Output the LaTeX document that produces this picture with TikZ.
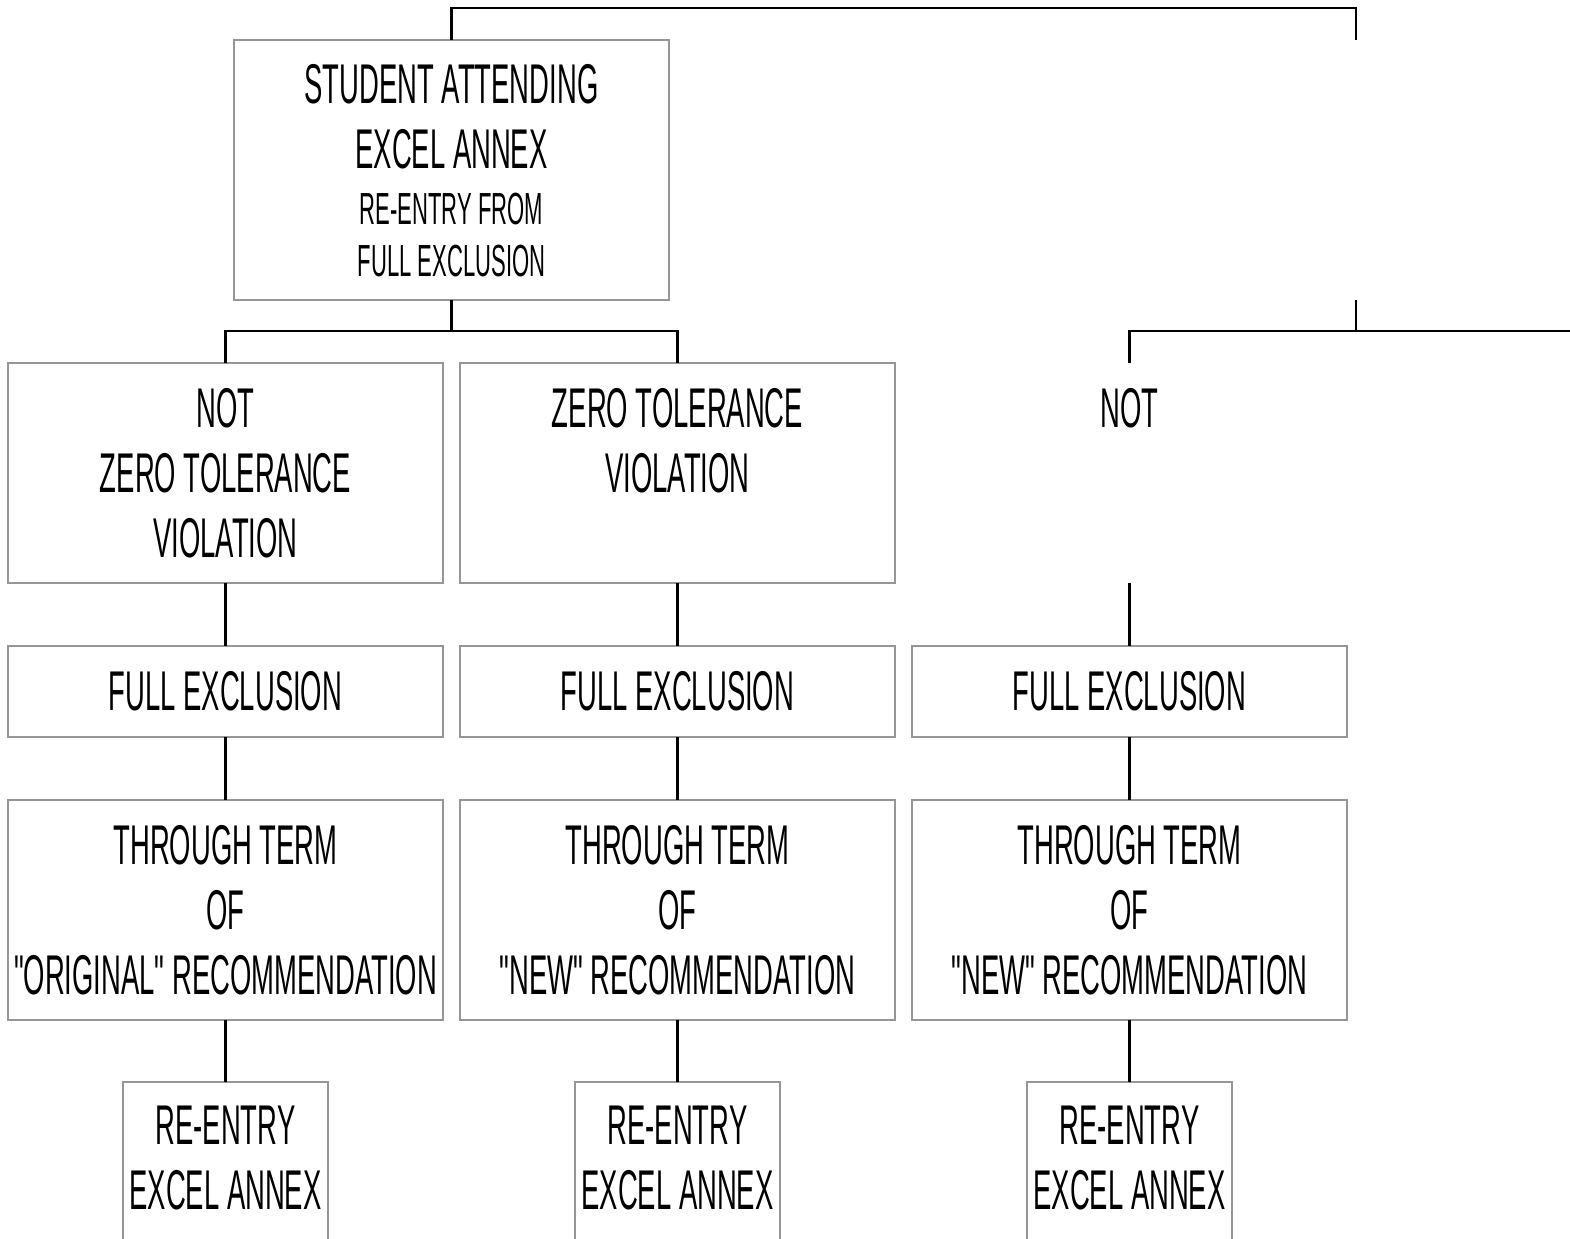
\documentclass[tikz,border=0pt]{standalone}
\usepackage{fontspec}
\setmainfont[FakeStretch=0.49,Ligatures=TeXOff]{Liberation Sans}
\definecolor{boxgray}{RGB}{150,150,150}
\begin{document}
\begin{tikzpicture}[x=0.5pt,y=-0.5pt,
  box/.style={draw=boxgray,line width=1pt,inner sep=0pt,outer sep=0pt,
    minimum width=217.5pt,align=center,
    font=\fontsize{28}{32.5}\selectfont},
  ghost/.style={box,draw=none},
  tall/.style={minimum height=110pt},
  short/.style={minimum height=45.5pt},
  bigline/.style={anchor=base,inner sep=0pt,font=\fontsize{28}{32.5}\selectfont},
  smallline/.style={anchor=base,inner sep=0pt,font=\fontsize{22.5}{26}\selectfont},
  conn/.style={line width=1.2pt,black}]
\useasboundingbox (0,0) rectangle (1570,1238);
\clip (0,0) rectangle (1570,1238);

% top node and its unseen sibling
\node[box,minimum height=130pt] (top) at (451.5,170) {};
\node[bigline] (topa) at (451.5,103) {STUDENT ATTENDING};
\node[bigline] (topb) at (451.5,168) {EXCEL ANNEX};
\node[smallline] (topc) at (451.5,224) {RE-ENTRY FROM};
\node[smallline] (topd) at (451.5,276) {FULL EXCLUSION};
\node[ghost,minimum height=130pt] (tr) at (1356,170) {};

% second row
\node[box,tall] (l1) at (225.5,473) {NOT\\ ZERO TOLERANCE\\ VIOLATION};
\node[box,tall] (m1) at (677.5,473) {ZERO TOLERANCE\\ VIOLATION\\ ~};
\node[ghost,tall] (r1) at (1129.5,473) {NOT\\ ~\\ ~};

% full exclusion row
\node[box,short] (l2) at (225.5,691.5) {FULL EXCLUSION};
\node[box,short] (m2) at (677.5,691.5) {FULL EXCLUSION};
\node[box,short] (r2) at (1129.5,691.5) {FULL EXCLUSION};

% term row
\node[box,tall] (l3) at (225.5,910) {THROUGH TERM\\ OF\\ "ORIGINAL" RECOMMENDATION};
\node[box,tall] (m3) at (677.5,910) {THROUGH TERM\\ OF\\ "NEW" RECOMMENDATION};
\node[box,tall] (r3) at (1129.5,910) {THROUGH TERM\\ OF\\ "NEW" RECOMMENDATION};

% re-entry row (boxes run past the lower edge)
\node[ghost,minimum width=102.5pt,minimum height=76pt] (l4) at (225.5,1158) {RE-ENTRY\\ EXCEL ANNEX};
\node[ghost,minimum width=102.5pt,minimum height=76pt] (m4) at (677.5,1158) {RE-ENTRY\\ EXCEL ANNEX};
\node[ghost,minimum width=102.5pt,minimum height=76pt] (r4) at (1129.5,1158) {RE-ENTRY\\ EXCEL ANNEX};
\foreach \n in {l4,m4,r4}
  \draw[draw=boxgray,line width=1pt]
    ([yshift=-40pt]\n.south west) -- (\n.north west) -- (\n.north east) -- ([yshift=-40pt]\n.south east);

% connectors
\coordinate (edge) at (1570,331);
\draw[conn] (top.north) -- (top.north |- 0,8) -| (tr.north);
\draw[conn] (top.south) -- (top.south |- 0,331);
\draw[conn] (l1.north) -- (l1.north |- 0,331) -- (m1.north |- 0,331) -- (m1.north);
\draw[conn] (tr.south) -- (tr.south |- edge);
\draw[conn] (r1.north) -- (r1.north |- edge) -- (edge);
\foreach \c in {l,m,r}{
  \draw[conn] (\c1.south) -- (\c2.north);
  \draw[conn] (\c2.south) -- (\c3.north);
  \draw[conn] (\c3.south) -- (\c4.north);
}
\end{tikzpicture}
\end{document}
